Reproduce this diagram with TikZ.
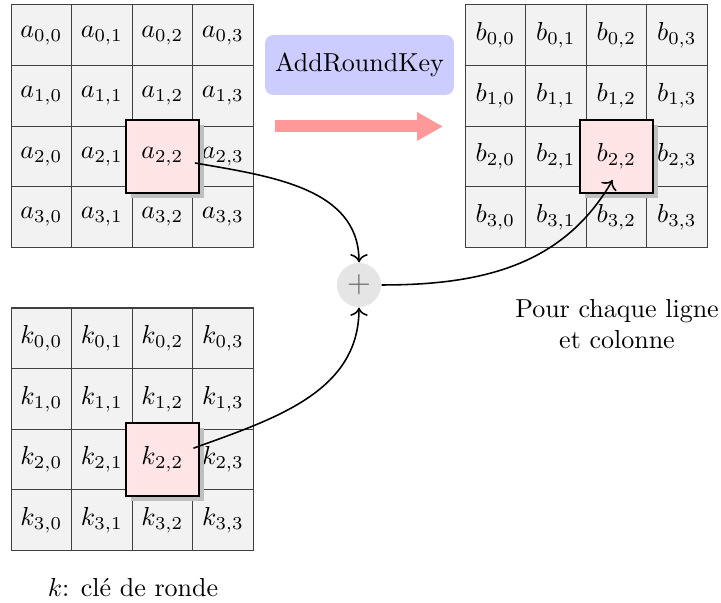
\documentclass[tikz,border=0pt]{standalone}
\usepackage{amsmath}
\usepackage{tikz}
\usetikzlibrary{calc,positioning,arrows.meta,shadows}

\tikzset{
  cell/.style={draw=black!75, fill=gray!10, minimum size=0.818cm, inner sep=0pt},
  selcell/.style={draw=black, line width=0.8pt, fill=red!10, minimum size=0.986cm, inner sep=0pt,
    drop shadow={shadow xshift=0.07cm, shadow yshift=-0.07cm, fill=gray!50, opacity=1}},
  opbox/.style={fill=blue!20, rounded corners=0.11cm, minimum width=2.55cm, minimum height=0.81cm},
  xorop/.style={circle, fill=gray!20, minimum size=0.595cm, inner sep=0pt, text=black!60},
  bigarrow/.style={red!40, line width=0.162cm, -{Triangle[width=0.365cm,length=0.35cm]}},
  link/.style={semithick, -{To[scale=1.1]}}
}

\begin{document}
\begin{tikzpicture}
    \pgfmathsetmacro{\cel}{0.818}
    \useasboundingbox (0,0) rectangle (9.743,8.135);

    % les trois grilles a, b, k
    \foreach \m/\x/\y in {a/0.149/8.068, b/6.284/8.068, k/0.149/3.973} {
      \foreach \i in {0,...,3} {
        \foreach \j in {0,...,3} {
          \node[cell] (\m\i\j) at ({\x+(\j+0.5)*\cel},{\y-(\i+0.5)*\cel}) {$\m_{\i,\j}$};
        }
      }
    }
    \foreach \m in {a,b,k}
      \node[selcell] (\m sel) at (\m22) {$\m_{2,2}$};

    \node[opbox] (op) at (4.858,7.257) {AddRoundKey};
    \coordinate (arrstart) at (3.716,6.426);
    \coordinate (arrend) at (5.986,6.426);
    \draw[bigarrow] (arrstart) -- (arrend);

    \node[xorop] (xor) at (4.851,4.284) {\large$+$};

    \draw[link] ([shift={(0.44,-0.09)}]asel.center) to[out=-10,in=90] (xor.north);
    \draw[link] ([shift={(0.42,0.15)}]ksel.center) to[out=20,in=-90] (xor.south);
    \draw[link] (xor.east) to[out=0,in=-120] ([shift={(-0.05,-0.32)}]bsel.center);

    \node[align=center] (note) at (8.338,3.757) {Pour chaque ligne\\et colonne};
    \node (legend) at (1.797,0.189) {$k$: clé de ronde};
\end{tikzpicture}
\end{document}
